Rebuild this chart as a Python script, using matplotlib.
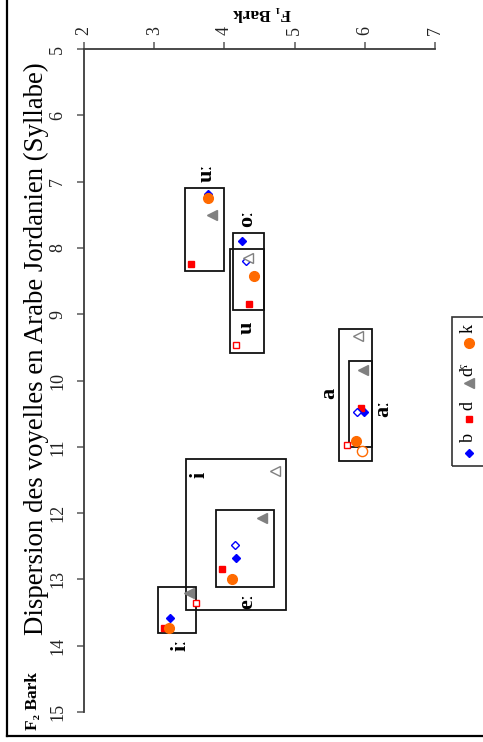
import numpy as np
import matplotlib
matplotlib.use("Agg")
import matplotlib.pyplot as plt
from matplotlib.patches import Rectangle
from matplotlib.lines import Line2D

SERIF = ['Liberation Serif', 'DejaVu Serif']
plt.rcParams['font.family'] = SERIF

# ---------------- data ----------------
consonants = ['b', 'd', 'dˤ', 'k']
cons_colors = ['#0000FF', '#FF0000', '#808080', '#FF6A00']
cons_markers = ['D', 's', '<', 'o']
cons_sizes = [4.2, 4.6, 6.5, 7.0]

long_vowels = ['iː', 'eː', 'aː', 'oː', 'uː']
# F1 / F2 (Bark) per consonant for long vowels (filled markers)
long_f1_b = [3.22, 4.17, 5.99, 4.25, 3.76]
long_f2_b = [13.58, 12.68, 10.48, 7.90, 7.18]
long_f1_d = [3.14, 3.96, 5.95, 4.35, 3.53]
long_f2_d = [13.73, 12.84, 10.42, 8.84, 8.24]
long_f1_dh = [3.49, 4.54, 5.98, np.nan, 3.82]
long_f2_dh = [13.21, 12.08, 9.84, np.nan, 7.51]
long_f1_k = [3.21, 4.11, 5.88, 4.42, 3.76]
long_f2_k = [13.73, 13.00, 10.91, 8.42, 7.24]

short_vowels = ['i', 'a', 'u']
# short vowels (open markers)
short_f1_b = [4.15, 5.89, 4.31]
short_f2_b = [12.48, 10.48, 8.20]
short_f1_d = [3.59, 5.74, 4.17]
short_f2_d = [13.35, 10.97, 9.47]
short_f1_dh = [4.72, 5.90, 4.34]
short_f2_dh = [11.36, 9.33, 8.15]
short_f1_k = [np.nan, 5.96, np.nan]
short_f2_k = [np.nan, 11.07, np.nan]

# dispersion boxes per vowel
box_vowels = ['uː', 'oː', 'u', 'i', 'eː', 'iː', 'a', 'aː']
box_f1_min = [3.44, 4.12, 4.08, 3.45, 3.88, 3.05, 5.63, 5.77]
box_f1_max = [3.99, 4.56, 4.57, 4.88, 4.70, 3.59, 6.10, 6.10]
box_f2_min = [7.10, 7.78, 8.02, 11.19, 11.95, 13.11, 9.22, 9.70]
box_f2_max = [8.35, 8.93, 9.58, 13.46, 13.12, 13.81, 11.22, 11.01]

# vowel label positions
label_vowels = ['uː', 'oː', 'u', 'i', 'eː', 'iː', 'a', 'aː']
label_f1 = [3.75, 4.32, 4.32, 3.64, 4.32, 3.37, 5.49, 6.26]
label_f2 = [6.86, 7.56, 9.21, 11.43, 13.33, 13.98, 10.19, 10.42]

f1_ticks = [2, 3, 4, 5, 6, 7]
f2_ticks = [5, 6, 7, 8, 9, 10, 11, 12, 13, 14, 15]

title = 'Dispersion des voyelles en Arabe Jordanien (Syllabe)'
f1_label = 'F₁ Bark'
f2_label = 'F₂ Bark'

# ---------------- figure ----------------
W, H = 483, 742
fig = plt.figure(figsize=(W / 100, H / 100), dpi=100)
ax = fig.add_axes([84 / W, 1 - 712 / H, (435 - 84) / W, (712 - 49) / H])
ax.set_xlim(2, 7)
ax.set_ylim(15, 5)

spine_col = '#3c3c3c'
tick_col = '#666666'
for s in ['right', 'bottom']:
    ax.spines[s].set_visible(False)
for s in ['top', 'left']:
    ax.spines[s].set_color(spine_col)
    ax.spines[s].set_linewidth(1.3)

ax.xaxis.tick_top()
ax.set_xticks(f1_ticks)
ax.set_yticks(f2_ticks)
ax.set_xticklabels([str(t) for t in f1_ticks])
ax.set_yticklabels([str(t) for t in f2_ticks])
ax.tick_params(axis='x', top=True, bottom=False, labeltop=True, labelbottom=False,
               direction='out', length=5, width=1.2, color=tick_col,
               labelrotation=90, labelsize=13, pad=5, labelcolor='#222222')
ax.tick_params(axis='y', direction='out', length=5, width=1.2, color=tick_col,
               labelrotation=90, labelsize=13, pad=8, labelcolor='#222222')
for lab in ax.get_yticklabels():
    lab.set_verticalalignment('center')

# boxes
for v, x0, x1, y0, y1 in zip(box_vowels, box_f1_min, box_f1_max, box_f2_min, box_f2_max):
    ax.add_patch(Rectangle((x0, y0), x1 - x0, y1 - y0, fill=False,
                           edgecolor='#111111', linewidth=1.3, zorder=2))

long_f1 = [long_f1_b, long_f1_d, long_f1_dh, long_f1_k]
long_f2 = [long_f2_b, long_f2_d, long_f2_dh, long_f2_k]
short_f1 = [short_f1_b, short_f1_d, short_f1_dh, short_f1_k]
short_f2 = [short_f2_b, short_f2_d, short_f2_dh, short_f2_k]

for i, c in enumerate(consonants):
    ax.plot(long_f1[i], long_f2[i], linestyle='none', marker=cons_markers[i],
            color=cons_colors[i], markersize=cons_sizes[i], zorder=4)
for i, c in enumerate(consonants):
    ax.plot(short_f1[i], short_f2[i], linestyle='none', marker=cons_markers[i],
            markeredgecolor=cons_colors[i], markerfacecolor='white',
            markeredgewidth=1.0, markersize=cons_sizes[i] * 1.05, zorder=5)

for v, x, y in zip(label_vowels, label_f1, label_f2):
    ax.text(x, y, v, rotation=90, ha='center', va='center', fontsize=16,
            fontweight='bold', family=SERIF, zorder=6)

# titles / axis labels
fig.text(36 / W, 1 - 349 / H, title, rotation=90, ha='center', va='center',
         fontsize=19.4, family=SERIF)
fig.text(262 / W, 1 - 13 / H, f1_label, rotation=180, ha='center', va='center',
         fontsize=12.5, fontweight='bold', family=SERIF)
fig.text(33 / W, 1 - 701 / H, f2_label, rotation=90, ha='center', va='center',
         fontsize=12.5, fontweight='bold', family=SERIF)

# legend (rotated, drawn manually)
fig.add_artist(Rectangle((452 / W, 1 - 466 / H), 0.2, (466 - 317) / H,
                         transform=fig.transFigure, fill=False,
                         edgecolor='#333333', linewidth=1.2))
leg_marker_y = [453, 419, 383, 343]
leg_text_y = [438, 405, 369, 328]
for i, c in enumerate(consonants):
    fig.add_artist(Line2D([469 / W], [1 - leg_marker_y[i] / H], transform=fig.transFigure,
                          marker=cons_markers[i], color=cons_colors[i],
                          markersize=cons_sizes[i], linestyle='none'))
    fig.text(468 / W, 1 - leg_text_y[i] / H, c, rotation=90, ha='center', va='center',
             fontsize=13, family=SERIF)

# figure frame (partially cropped)
fig.add_artist(Line2D([6.5 / W, 6.5 / W], [1.0, 1 - 736 / H], transform=fig.transFigure,
                      color='black', linewidth=1.6))
fig.add_artist(Line2D([6.5 / W, 1.0], [1 - 736 / H, 1 - 736 / H], transform=fig.transFigure,
                      color='black', linewidth=1.6))

fig.savefig('out.png', dpi=100)
